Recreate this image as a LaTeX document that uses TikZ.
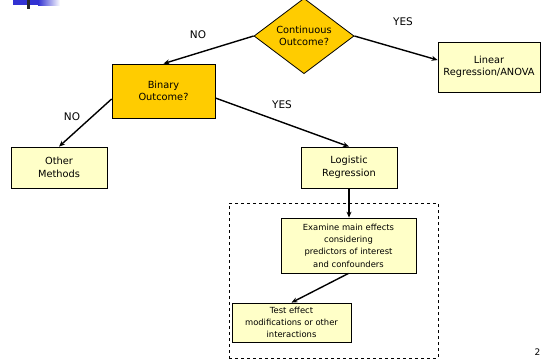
\documentclass[tikz,border=0pt]{standalone}
\usepackage{fontspec}
\setmainfont{DejaVu Sans}
\usetikzlibrary{shapes.geometric,arrows.meta,calc}
\definecolor{gold}{RGB}{255,204,0}
\definecolor{paleyel}{RGB}{255,255,200}
\definecolor{slideblue}{RGB}{50,50,210}
\begin{document}
\begin{tikzpicture}[x=1pt,y=-1pt,
  box/.style={draw=black,line width=0.8pt,fill=paleyel,align=center,inner sep=0pt,font=\fontsize{9.8}{12.5}\selectfont},
  goldbox/.style={box,fill=gold},
  small/.style={box,font=\fontsize{8.4}{12.3}\selectfont},
  conn/.style={line width=1.4pt,-{Stealth[length=6pt,width=5pt]}},
  lbl/.style={font=\fontsize{10.5}{12}\selectfont,inner sep=0pt}]
\useasboundingbox (0,0) rectangle (541,360);
% slide decoration
\fill[slideblue] (13,0) rectangle (38,5);
\shade[left color=slideblue,right color=white] (38,0) rectangle (60,5);
\fill[black!85] (27,0) rectangle (30,9);
% nodes
\node[diamond,draw=black,line width=0.8pt,fill=gold,minimum width=100pt,minimum height=59pt,inner sep=0pt,align=center,font=\fontsize{9.8}{12.5}\selectfont] (dia) at (304,36) {Continuous\\Outcome?};
\node[goldbox,minimum width=103pt,minimum height=54pt] (bin) at (163.5,91) {Binary\\Outcome?};
\node[box,minimum width=102pt,minimum height=50pt] (lin) at (489,67) {Linear\\Regression/ANOVA};
\node[box,minimum width=96pt,minimum height=41pt] (oth) at (59,167.5) {Other\\Methods};
\node[box,minimum width=96pt,minimum height=41pt] (log) at (349,167.5) {Logistic\\Regression};
\node[draw=black,dashed,line width=0.8pt,minimum width=209pt,minimum height=155pt,inner sep=0pt] (dash) at (333.5,280.5) {};
\node[small,minimum width=135pt,minimum height=55pt] (exa) at (348.5,245.5) {Examine main effects\\considering\\predictors of interest\\and confounders};
\node[small,minimum width=119pt,minimum height=39pt] (tst) at (291.5,322.5) {Test effect\\modifications or other\\interactions};
% labels
\node[lbl] (no1) at (198,35) {NO};
\node[lbl] (yes1) at (403,22) {YES};
\node[lbl] (no2) at (72,117) {NO};
\node[lbl] (yes2) at (282,105) {YES};
\node[font=\fontsize{9}{11}\selectfont,anchor=east,inner sep=0.5pt] (pg) at (541,352) {2};
% connectors
\draw[conn] (dia.west) -- (bin.north);
\draw[conn] (dia.east) -- ($(lin.west)+(0,-7)$);
\draw[conn] ($(bin.west)+(0,8)$) -- (oth.north);
\draw[conn] ($(bin.east)+(0,7)$) -- (log.north);
\draw[conn] (log.south) -- (log.south |- exa.north);
\draw[conn] (exa.south) -- (tst.north);
\end{tikzpicture}
\end{document}
